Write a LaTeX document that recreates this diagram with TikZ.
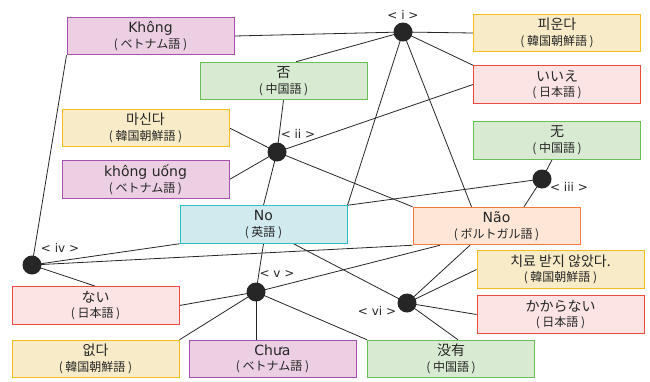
\documentclass[tikz,border=0pt]{standalone}
\usepackage{fontspec}
\setmainfont{DejaVu Sans}
\newfontfamily\cjk{Noto Sans CJK JP}
\usetikzlibrary{backgrounds}
\definecolor{purF}{RGB}{236,207,227}
\definecolor{purD}{RGB}{166,80,176}
\definecolor{yelF}{RGB}{248,236,200}
\definecolor{yelD}{RGB}{245,190,30}
\definecolor{redF}{RGB}{253,228,228}
\definecolor{redD}{RGB}{234,75,62}
\definecolor{grnF}{RGB}{217,234,210}
\definecolor{grnD}{RGB}{105,190,85}
\definecolor{cyaF}{RGB}{208,234,238}
\definecolor{cyaD}{RGB}{50,190,200}
\definecolor{oraF}{RGB}{255,230,214}
\definecolor{oraD}{RGB}{245,120,60}
\definecolor{txt}{RGB}{38,38,38}
\definecolor{dotc}{RGB}{38,38,38}
\newcommand\mk[2]{#1\\{\fontsize{12}{15.5}\selectfont\cjk (\ #2\ )}}
\tikzset{
  box/.style={draw, line width=1pt, minimum width=167pt, minimum height=37.5pt, inner sep=0pt, align=center, text=txt, font=\fontsize{14}{15.5}\selectfont},
  pur/.style={box, fill=purF, draw=purD},
  yel/.style={box, fill=yelF, draw=yelD},
  red/.style={box, fill=redF, draw=redD},
  grn/.style={box, fill=grnF, draw=grnD},
  cya/.style={box, fill=cyaF, draw=cyaD},
  ora/.style={box, fill=oraF, draw=oraD},
  dot/.style={circle, fill=dotc, minimum size=19pt, inner sep=0pt},
  dlab/.style={text=txt, font=\fontsize{12}{13}\selectfont, inner sep=0pt},
  edge/.style={draw=txt, line width=0.8pt}
}
\begin{document}
\begin{tikzpicture}[x=1pt, y=-1pt]
\useasboundingbox (0,0) rectangle (650,381);
% boxes
\node[pur] (khong) at (150.5,36) {\mk{Không}{ベトナム語}};
\node[grn] (fou) at (283.5,81) {\mk{\cjk 否}{中国語}};
\node[yel] (piunda) at (557,33) {\mk{\cjk 피운다}{韓国朝鮮語}};
\node[red] (iie) at (557,84.5) {\mk{\cjk いいえ}{日本語}};
\node[grn] (wu) at (557,140.5) {\mk{\cjk 无}{中国語}};
\node[yel] (masinda) at (145.5,128) {\mk{\cjk 마신다}{韓国朝鮮語}};
\node[pur] (khonguong) at (145.5,179.5) {\mk{không uống}{ベトナム語}};
\node[cya] (no) at (263.5,224.5) {\mk{No}{英語}};
\node[ora] (nao) at (496.5,226) {\mk{Não}{ポルトガル語}};
\node[red] (nai) at (95.5,305.5) {\mk{\cjk ない}{日本語}};
\node[yel] (eopda) at (95.5,359) {\mk{\cjk 없다}{韓国朝鮮語}};
\node[pur] (chua) at (272.5,359) {\mk{Chưa}{ベトナム語}};
\node[grn] (meiyou) at (451,359) {\mk{\cjk 没有}{中国語}};
\node[yel] (chiryo) at (560.5,269.5) {\mk{\cjk 치료 받지 않았다.}{韓国朝鮮語}};
\node[red] (kakaranai) at (560.5,314.5) {\mk{\cjk かからない}{日本語}};
% dots
\node[dot] (i) at (403,32) {};
\node[dot] (ii) at (277,152) {};
\node[dot] (iii) at (542,179) {};
\node[dot] (iv) at (32,265) {};
\node[dot] (v) at (256,292) {};
\node[dot] (vi) at (407,303) {};
\node[dlab] (li) at (403,15) {< i >};
\node[dlab] (lii) at (298,134) {< ii >};
\node[dlab] (liii) at (569,187) {< iii >};
\node[dlab] (liv) at (60,248) {< iv >};
\node[dlab] (lv) at (277,274) {< v >};
\node[dlab] (lvi) at (377,311) {< vi >};
\begin{scope}[on background layer]
% i
\path[edge] (i.center) -- (khong.east);
\path[edge] (i.center) -- (piunda.west);
\path[edge] (i.center) -- (iie.north west);
\path[edge] (i.center) -- ([xshift=12.5pt]fou.north);
\path[edge] (i.center) -- (no.north east);
\path[edge] (i.center) -- ([xshift=-25pt]nao.north);
% ii
\path[edge] (ii.center) -- (fou.south);
\path[edge] (ii.center) -- (masinda.east);
\path[edge] (ii.center) -- (khonguong.east);
\path[edge] (ii.center) -- (iie.west);
\path[edge] (ii.center) -- (nao.north west);
\path[edge] (ii.center) -- (no.north);
% iii
\path[edge] (iii.center) -- ([xshift=-5pt]wu.south);
\path[edge] (iii.center) -- ([xshift=27.5pt]nao.north);
\path[edge] (iii.center) -- (no.north east);
% iv
\path[edge] (iv.center) -- (khong.south west);
\path[edge] (iv.center) -- (no.south west);
\path[edge] (iv.center) -- (nao.south west);
\path[edge] (iv.center) -- (nai.north);
% v
\path[edge] (v.center) -- (no.south);
\path[edge] (v.center) -- (nai.east);
\path[edge] (v.center) -- (eopda.north east);
\path[edge] (v.center) -- ([xshift=-16.5pt]chua.north);
\path[edge] (v.center) -- (meiyou.north west);
\path[edge] (v.center) -- ([xshift=-56.5pt]nao.south);
% vi
\path[edge] (vi.center) -- ([xshift=30pt]no.south);
\path[edge] (vi.center) -- ([xshift=-26.5pt]nao.south);
\path[edge] (vi.center) -- (chiryo.west);
\path[edge] (vi.center) -- (kakaranai.west);
\path[edge] (vi.center) -- ([xshift=7pt]meiyou.north);
\end{scope}
\end{tikzpicture}
\end{document}
